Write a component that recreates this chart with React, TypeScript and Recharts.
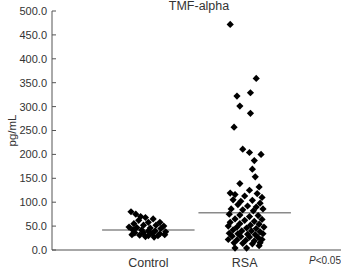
import { ScatterChart, Scatter, XAxis, YAxis, ReferenceLine } from "recharts"

const groups = ["Control", "RSA"]
const yTicks = [0, 50, 100, 150, 200, 250, 300, 350, 400, 450, 500]
const medians = [42, 78]

// [horizontal jitter position, TNF level in pg/mL]
const controlPoints = [
  [0.82, 80], [0.87, 75], [0.92, 70], [0.97, 68], [1.05, 65], [0.9, 62], [1.0, 58], [1.12, 58],
  [0.85, 55], [0.95, 52], [1.08, 52], [1.16, 50], [0.8, 48], [0.88, 47], [1.02, 46], [1.13, 45],
  [0.84, 42], [0.93, 42], [1.0, 40], [1.07, 40], [1.18, 38], [0.86, 36], [0.95, 36], [1.04, 35],
  [1.12, 34], [0.83, 32], [0.91, 31], [1.0, 30], [1.1, 30], [1.17, 32], [0.97, 28], [1.06, 27],
]

const rsaPoints = [
  [1.85, 472], [2.12, 359], [2.06, 329], [1.92, 322], [1.95, 301], [2.06, 286], [1.89, 257],
  [1.98, 211], [2.05, 204], [2.17, 200], [2.1, 187], [2.08, 169], [2.11, 153], [1.95, 139],
  [2.15, 132], [2.05, 125], [1.85, 119], [1.9, 116], [2.0, 113], [2.13, 118], [2.18, 110],
  [1.88, 105], [1.96, 102], [2.08, 104], [2.16, 98], [1.93, 95], [2.03, 92], [2.12, 90],
  [1.86, 86], [1.98, 84], [2.09, 82], [2.19, 86], [1.84, 75], [1.95, 73], [2.05, 70], [2.14, 72],
  [1.9, 65], [2.0, 62], [2.1, 60], [2.18, 64], [1.85, 58], [1.95, 55], [2.06, 52], [2.15, 54],
  [1.83, 50], [1.92, 48], [2.02, 46], [2.12, 45], [2.2, 48], [1.88, 42], [1.97, 40], [2.07, 40],
  [2.16, 38], [1.84, 35], [1.93, 34], [2.03, 33], [2.11, 32], [2.19, 34], [1.87, 29], [1.96, 28],
  [2.05, 27], [2.14, 26], [1.83, 22], [1.92, 21], [2.01, 20], [2.1, 19], [2.18, 22], [1.89, 15],
  [1.98, 14], [2.08, 13], [2.16, 15], [1.9, 4], [2.02, 4], [2.15, 9],
]

const toRows = (pts: number[][]) => pts.map(([x, y]) => ({ x, y }))

const font = "Arial, 'Liberation Sans', sans-serif"

const Diamond = (props: any) => {
  const { cx, cy } = props
  const r = 3.6
  return (
    <polygon
      points={`${cx},${cy - r} ${cx + r},${cy} ${cx},${cy + r} ${cx - r},${cy}`}
      fill="#000"
    />
  )
}

export default function App() {
  return (
    <div style={{ position: "relative", width: 341, height: 269, fontFamily: font }}>
      <style>{"body{margin:0}"}</style>
      <ScatterChart width={341} height={269} margin={{ top: 11, right: 0, bottom: 0, left: 0 }}>
        <XAxis
          type="number"
          dataKey="x"
          domain={[0, 3]}
          ticks={[1, 2]}
          tickFormatter={(v) => groups[v - 1]}
          tickLine={false}
          axisLine={{ stroke: "#8a8a8a", strokeWidth: 1.6 }}
          tick={{ fill: "#333", fontSize: 12.5, fontFamily: font }}
          height={19}
          interval={0}
        />
        <YAxis
          type="number"
          dataKey="y"
          domain={[0, 500]}
          ticks={yTicks}
          interval={0}
          width={52}
          tickFormatter={(v) => v.toFixed(1)}
          tickSize={-4}
          tickMargin={9}
          tickLine={{ stroke: "#555" }}
          axisLine={{ stroke: "#555" }}
          tick={{ fill: "#333", fontSize: 11, fontFamily: font }}
          label={{
            value: "pg/mL",
            angle: -90,
            position: "center",
            dx: -14,
            fill: "#333",
            fontSize: 11.5,
            fontFamily: font,
          }}
        />
        {medians.map((m, i) => (
          <ReferenceLine
            key={groups[i]}
            segment={[{ x: i + 0.52, y: m }, { x: i + 1.48, y: m }]}
            stroke="#8a8a8a"
            strokeWidth={1.5}
          />
        ))}
        <Scatter data={toRows(controlPoints)} shape={Diamond} isAnimationActive={false} />
        <Scatter data={toRows(rsaPoints)} shape={Diamond} isAnimationActive={false} />
      </ScatterChart>
      <div
        style={{
          position: "absolute",
          left: 149,
          width: 100,
          top: -1,
          textAlign: "center",
          fontSize: 12.5,
          color: "#333",
        }}
      >
        TMF-alpha
      </div>
      <div style={{ position: "absolute", right: 0, top: 255, fontSize: 10, color: "#333" }}>
        <i>P</i>&lt;0.05
      </div>
    </div>
  )
}
